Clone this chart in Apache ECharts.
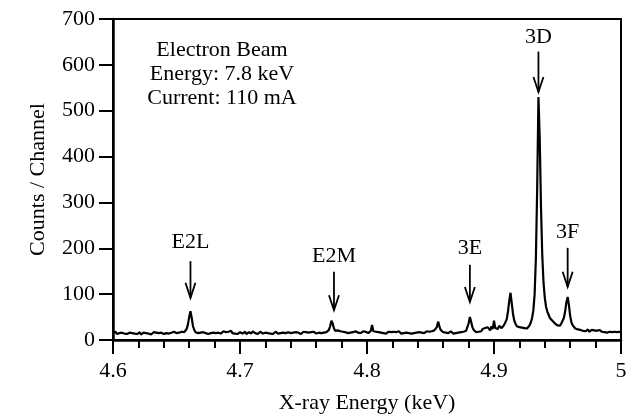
<!DOCTYPE html>
<html>
<head>
<meta charset="utf-8">
<style>
  html, body { margin: 0; padding: 0; background: #fff; }
  #chart { width: 632px; height: 417px; }
</style>
<script src="https://cdn.jsdelivr.net/npm/echarts@6/dist/echarts.min.js"></script>
</head>
<body>
<div id="chart"></div>
<script>
// spectrum, one value per 0.001 keV channel starting at 4.600 keV
const startEnergy = 4.6;
const channelWidth = 0.001;
const counts = [
  16, 14, 18, 13, 17, 15, 12, 16, 19, 14, 15, 13, 17, 16, 12, 15, 18, 14, 16, 13,
  15, 17, 12, 14, 16, 19, 15, 13, 14, 16, 12, 15, 17, 14, 16, 13, 15, 18, 16, 14,
  13, 16, 15, 17, 14, 12, 16, 15, 18, 14, 15, 17, 16, 14, 18, 16, 17, 18, 24, 34,
  50, 63, 48, 30, 22, 17, 19, 15, 18, 16, 14, 17, 19, 15, 16, 13, 17, 15, 14, 16,
  18, 15, 13, 16, 17, 14, 16, 19, 15, 17, 14, 18, 16, 20, 15, 17, 14, 16, 13, 15,
  17, 15, 14, 16, 18, 13, 15, 17, 16, 14, 19, 16, 15, 17, 13, 16, 18, 15, 14, 17,
  16, 19, 15, 17, 14, 16, 13, 15, 18, 16, 14, 17, 15, 13, 16, 18, 15, 14, 17, 16,
  15, 18, 16, 14, 17, 19, 16, 15, 13, 16, 18, 15, 17, 14, 16, 20, 17, 15, 18, 16,
  14, 17, 16, 19, 15, 17, 16, 18, 17, 19, 22, 30, 42, 36, 25, 20, 18, 21, 17, 19,
  16, 18, 20, 17, 19, 15, 18, 16, 20, 17, 15, 19, 17, 16, 18, 15, 17, 19, 16, 18,
  17, 15, 18, 20, 33, 19, 16, 18, 15, 17, 19, 16, 18, 15, 17, 14, 16, 18, 15, 17,
  16, 18, 14, 17, 15, 19, 16, 14, 17, 15, 18, 16, 13, 15, 17, 14, 16, 15, 18, 16,
  14, 17, 15, 16, 18, 15, 17, 19, 16, 18, 17, 19, 18, 21, 22, 28, 40, 30, 22, 19,
  17, 20, 16, 18, 15, 17, 19, 16, 14, 17, 15, 18, 16, 19, 17, 15, 18, 17, 20, 24,
  36, 50, 40, 28, 22, 19, 17, 20, 18, 22, 19, 24, 21, 26, 22, 28, 25, 21, 30, 24,
  42, 26, 29, 24, 31, 28, 26, 30, 33, 36, 45, 62, 85, 103, 80, 56, 42, 35, 30, 28,
  28, 25, 27, 24, 26, 23, 25, 28, 32, 38, 48, 65, 100, 180, 330, 530, 440, 290, 185, 125,
  92, 72, 62, 55, 48, 45, 42, 40, 36, 34, 32, 35, 31, 36, 40, 48, 62, 82, 94, 76,
  52, 38, 32, 28, 25, 27, 23, 25, 22, 24, 20, 22, 19, 21, 23, 18, 20, 22, 19, 21,
  18, 20, 17, 22, 19, 18, 21, 17, 19, 16, 20, 18, 21, 17, 19, 18, 20, 17, 16, 18,
  17
];

// line labels with their arrows (energy, arrow start, arrow tip, label height)
const peakNames = ['E2L', 'E2M', '3E', '3D', '3F'];
const peakEnergies = [4.661, 4.774, 4.881, 4.935, 4.958];
const arrowTops = [172, 149, 164, 629, 201];
const arrowTips = [92, 65, 83, 541, 116];
const labelLevels = [214, 182, 201, 661, 235];

const beamInfo = ['Electron Beam', 'Energy: 7.8 keV', 'Current: 110 mA'];

const fontName = '"Liberation Serif", "Times New Roman", serif';

const spectrum = counts.map((c, i) => [+(startEnergy + i * channelWidth).toFixed(3), c]);
const arrows = peakEnergies.map((e, i) => [e, arrowTops[i], arrowTips[i], labelLevels[i]]);

const myChart = echarts.init(document.getElementById('chart'), null, { renderer: 'canvas' });

const option = {
  animation: false,
  backgroundColor: '#fff',
  grid: {
    left: 113,
    right: 11,
    top: 19,
    bottom: 77,
    show: true,
    borderColor: '#000',
    borderWidth: 2,
    outerBoundsMode: 'none',
    containLabel: false,
  },
  xAxis: {
    type: 'value',
    min: 4.6,
    max: 5,
    interval: 0.1,
    name: 'X-ray Energy (keV)',
    nameLocation: 'middle',
    nameGap: 52,
    nameTextStyle: { color: '#000', fontFamily: fontName, fontSize: 22 },
    axisLine: { show: true, onZero: false, lineStyle: { color: '#000', width: 2.5 } },
    axisTick: { show: true, inside: false, length: 14, lineStyle: { color: '#000', width: 2 } },
    minorTick: { show: true, splitNumber: 5, length: 8, lineStyle: { color: '#000', width: 2 } },
    axisLabel: { color: '#000', fontFamily: fontName, fontSize: 22, margin: 20 },
    splitLine: { show: false },
    minorSplitLine: { show: false },
  },
  yAxis: {
    type: 'value',
    min: 0,
    max: 700,
    interval: 100,
    name: 'Counts / Channel',
    nameLocation: 'middle',
    nameGap: 64,
    nameRotate: 90,
    nameTextStyle: { color: '#000', fontFamily: fontName, fontSize: 22 },
    axisLine: { show: true, onZero: false, lineStyle: { color: '#000', width: 2.5 } },
    axisTick: { show: true, inside: false, length: 14, lineStyle: { color: '#000', width: 2 } },
    axisLabel: { color: '#000', fontFamily: fontName, fontSize: 22, margin: 18 },
    splitLine: { show: false },
  },
  graphic: [
    {
      type: 'text',
      x: 222,
      y: 38,
      style: {
        text: beamInfo.join('\n'),
        align: 'center',
        verticalAlign: 'top',
        fontFamily: fontName,
        fontSize: 22,
        lineHeight: 24,
        fill: '#000',
      },
    },
  ],
  series: [
    {
      type: 'line',
      data: spectrum,
      showSymbol: false,
      lineStyle: { color: '#000', width: 2.2 },
      silent: true,
    },
    {
      type: 'custom',
      data: arrows,
      silent: true,
      clip: false,
      renderItem(params, api) {
        const e = api.value(0);
        const top = api.coord([e, api.value(1)]);
        const tip = api.coord([e, api.value(2)]);
        const lab = api.coord([e, api.value(3)]);
        return {
          type: 'group',
          children: [
            {
              type: 'line',
              shape: { x1: top[0], y1: top[1], x2: tip[0], y2: tip[1] },
              style: { stroke: '#000', lineWidth: 1.8 },
            },
            {
              type: 'polyline',
              shape: { points: [[tip[0] - 5, tip[1] - 15], [tip[0], tip[1]], [tip[0] + 5, tip[1] - 15]] },
              style: { stroke: '#000', fill: null, lineWidth: 1.8 },
            },
            {
              type: 'text',
              x: lab[0],
              y: lab[1],
              style: {
                text: peakNames[params.dataIndex],
                align: 'center',
                verticalAlign: 'middle',
                fontFamily: fontName,
                fontSize: 22,
                fill: '#000',
              },
            },
          ],
        };
      },
    },
  ],
};

myChart.setOption(option);
</script>
</body>
</html>
